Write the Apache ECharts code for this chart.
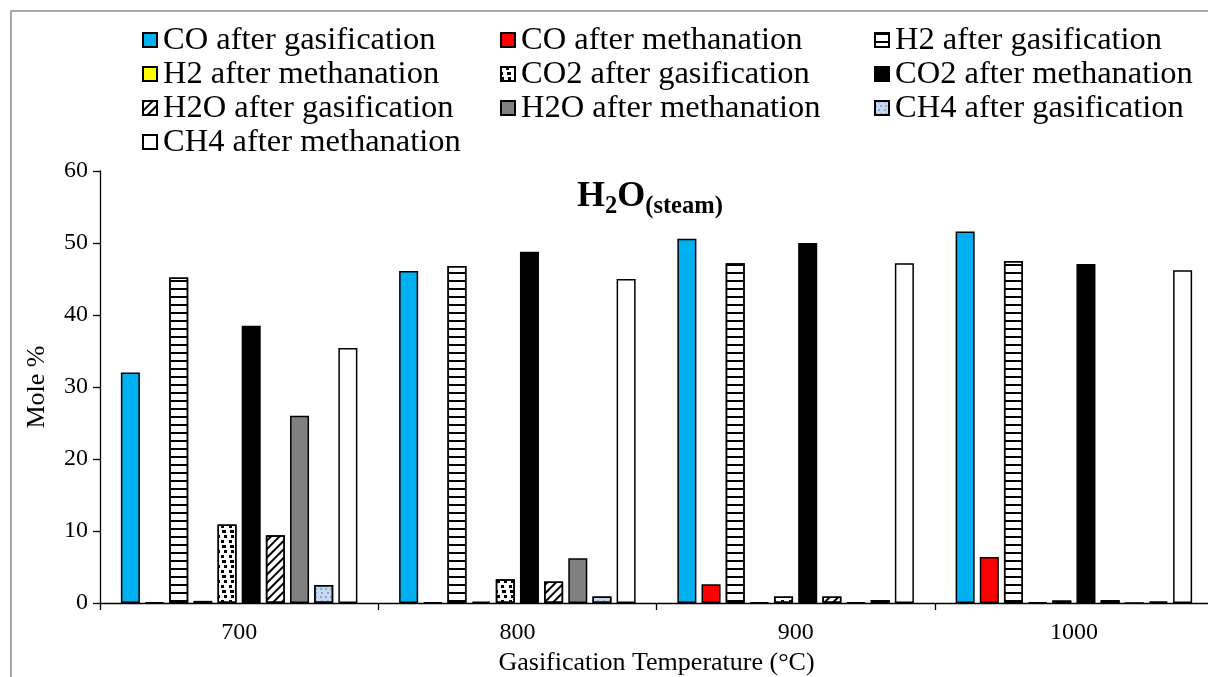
<!DOCTYPE html>
<html>
<head>
<meta charset="utf-8">
<script src="https://cdn.jsdelivr.net/npm/echarts@6/dist/echarts.min.js"></script>
<style>
  html, body { margin: 0; padding: 0; background: #fff; }
  #chart { width: 1208px; height: 677px; }
</style>
</head>
<body>
<div id="chart"></div>
<script>
// Gas composition (mole %) after gasification and after methanation, steam as gasifying agent
const categories = ['700', '800', '900', '1000'];
const yTicks = [0, 10, 20, 30, 40, 50, 60];

const coGas   = [32.0, 46.1, 50.6, 51.6];
const coMeth  = [0.1, 0.1, 2.6, 6.4];
const h2Gas   = [45.2, 46.8, 47.2, 47.5];
const h2Meth  = [0.3, 0.2, 0.1, 0.1];
const co2Gas  = [10.9, 3.3, 0.9, 0.35];
const co2Meth = [38.5, 48.8, 50.0, 47.1];
const h2oGas  = [9.4, 3.0, 0.9, 0.4];
const h2oMeth = [26.0, 6.2, 0.1, 0];
const ch4Gas  = [2.5, 0.9, 0.4, 0.2];
const ch4Meth = [35.4, 45.0, 47.2, 46.2];

const seriesNames = [
  'CO after gasification', 'CO after methanation',
  'H2 after gasification', 'H2 after methanation',
  'CO2 after gasification', 'CO2 after methanation',
  'H2O after gasification', 'H2O after methanation',
  'CH4 after gasification', 'CH4 after methanation'
];
const seriesValues = [coGas, coMeth, h2Gas, h2Meth, co2Gas, co2Meth, h2oGas, h2oMeth, ch4Gas, ch4Meth];

const FONT = 'Liberation Serif';

// fill styles for each series
const styles = [
  { color: '#00b0f0' },
  { color: '#ff0000' },
  { color: '#ffffff', decal: { symbol: 'rect', symbolSize: 1, color: '#000', dashArrayX: [1, 0], dashArrayY: [2, 6] } },
  { color: '#ffff00' },
  { color: '#ffffff', decal: { symbol: 'rect', symbolSize: 1, color: '#000',
      dashArrayX: [[3, 4], [0, 4.5, 3, 0], [1.5, 4, 1.5, 0]], dashArrayY: [3, 2] } },
  { color: '#000000' },
  { color: '#ffffff', decal: { symbol: 'rect', symbolSize: 1, color: '#000', rotation: -Math.PI / 4,
      dashArrayX: [1, 0], dashArrayY: [1.5, 4] } },
  { color: '#808080' },
  { color: '#c6d9f1', decal: { symbol: 'circle', symbolSize: 0.9, color: '#6f93c4',
      dashArrayX: [[2, 3], [0, 2.5, 2, 0.5]], dashArrayY: [2, 2] } },
  { color: '#ffffff' }
];

const series = seriesNames.map((name, i) => ({
  name: name,
  type: 'bar',
  data: seriesValues[i],
  barGap: '27%',
  barCategoryGap: '15%',
  itemStyle: Object.assign({ borderColor: '#000', borderWidth: 1.5 }, styles[i]),
  emphasis: { disabled: true }
}));

// legend laid out in three columns
const legendColumns = [
  { left: 142, names: [seriesNames[0], seriesNames[3], seriesNames[6], seriesNames[9]] },
  { left: 500, names: [seriesNames[1], seriesNames[4], seriesNames[7]] },
  { left: 874, names: [seriesNames[2], seriesNames[5], seriesNames[8]] }
];
const legends = legendColumns.map(col => ({
  data: col.names,
  orient: 'vertical',
  left: col.left,
  top: 23,
  itemGap: 0,
  itemWidth: 14,
  itemHeight: 14,
  icon: 'rect',
  padding: 0,
  selectedMode: false,
  textStyle: { fontFamily: FONT, fontSize: 32.5, color: '#000', lineHeight: 34, padding: [0, 0, 0, 1] }
}));

const chart = echarts.init(document.getElementById('chart'), null, { renderer: 'canvas' });
chart.setOption({
  animation: false,
  backgroundColor: '#ffffff',
  title: {
    text: '{a|H}{b|2}{a|O}{b|(steam)}',
    left: 577,
    top: 179,
    padding: 0,
    textStyle: {
      rich: {
        a: { fontFamily: FONT, fontSize: 36, fontWeight: 'bold', color: '#000', verticalAlign: 'top', lineHeight: 40 },
        b: { fontFamily: FONT, fontSize: 24.5, fontWeight: 'bold', color: '#000', verticalAlign: 'bottom' }
      }
    }
  },
  legend: legends,
  grid: { left: 100, width: 1113, top: 171, height: 432, containLabel: false, outerBoundsMode: 'none' },
  xAxis: {
    type: 'category',
    data: categories,
    name: 'Gasification Temperature (\u00B0C)',
    nameLocation: 'middle',
    nameGap: 46,
    nameTextStyle: { fontFamily: FONT, fontSize: 26, color: '#000' },
    axisLine: { show: true, lineStyle: { color: '#000', width: 1.3 } },
    axisTick: { show: true, length: 7, lineStyle: { color: '#000', width: 1.3 } },
    axisLabel: { fontFamily: FONT, fontSize: 24, color: '#000', margin: 18 },
    splitLine: { show: false }
  },
  yAxis: {
    type: 'value',
    min: yTicks[0],
    max: yTicks[yTicks.length - 1],
    interval: yTicks[1] - yTicks[0],
    name: 'Mole %',
    nameLocation: 'middle',
    nameGap: 50,
    nameTextStyle: { fontFamily: FONT, fontSize: 26, color: '#000' },
    axisLine: { show: true, lineStyle: { color: '#000', width: 1.3 } },
    axisTick: { show: true, length: 7, lineStyle: { color: '#000', width: 1.3 } },
    axisLabel: { fontFamily: FONT, fontSize: 24, color: '#000', margin: 12 },
    splitLine: { show: false }
  },
  graphic: [{
    type: 'rect',
    silent: true,
    shape: { x: 11, y: 11, width: 1400, height: 900 },
    style: { fill: null, stroke: '#8c8c8c', lineWidth: 1.5 }
  }],
  series: series
});
</script>
</body>
</html>
